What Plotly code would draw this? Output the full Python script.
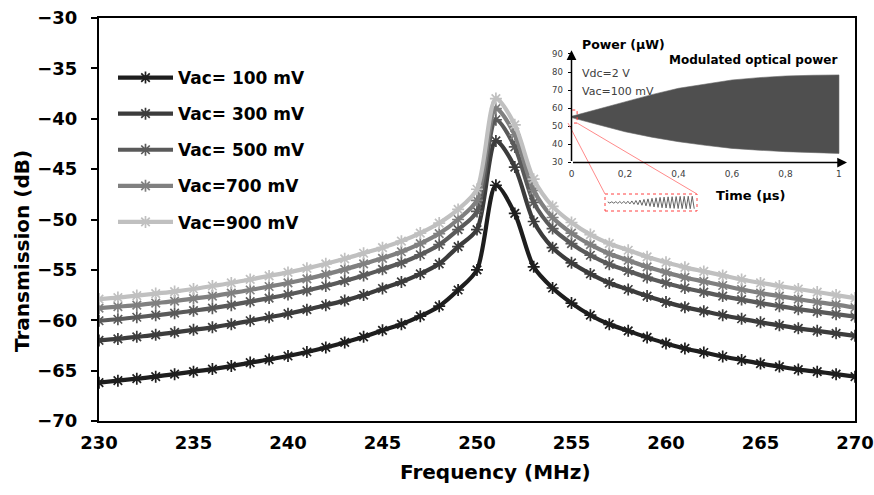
import numpy as np
import plotly.graph_objects as go

# ---- main data: transmission vs. frequency for several drive amplitudes ----
freq_mhz = list(range(230, 271))

vac_labels = ["Vac= 100 mV", "Vac= 300 mV", "Vac= 500 mV", "Vac=700 mV", "Vac=900 mV"]

trans_100mv = [-66.2, -66.0, -65.8, -65.6, -65.35, -65.1, -64.85, -64.55, -64.2, -63.9,
               -63.55, -63.15, -62.7, -62.2, -61.65, -61.0, -60.4, -59.6, -58.6, -57.0,
               -55.0, -46.6, -49.4, -54.7, -56.8, -58.3, -59.5, -60.4, -61.05, -61.7,
               -62.3, -62.8, -63.2, -63.6, -63.95, -64.3, -64.6, -64.9, -65.1, -65.35, -65.6]
trans_300mv = [-62.0, -61.85, -61.65, -61.45, -61.2, -60.95, -60.7, -60.4, -60.05, -59.7,
               -59.35, -58.95, -58.5, -58.05, -57.5, -56.85, -56.2, -55.4, -54.4, -52.7,
               -51.0, -42.2, -44.8, -50.2, -52.8, -54.3, -55.4, -56.3, -56.95, -57.6,
               -58.2, -58.7, -59.1, -59.5, -59.85, -60.2, -60.5, -60.8, -61.05, -61.3, -61.55]
trans_500mv = [-60.05, -59.9, -59.7, -59.5, -59.3, -59.05, -58.8, -58.5, -58.15, -57.8,
               -57.45, -57.05, -56.6, -56.1, -55.55, -54.95, -54.3, -53.5, -52.5, -51.0,
               -49.2, -40.1, -42.8, -48.3, -50.9, -52.4, -53.55, -54.45, -55.1, -55.75,
               -56.3, -56.8, -57.2, -57.6, -57.95, -58.3, -58.6, -58.9, -59.15, -59.4, -59.65]
trans_700mv = [-58.8, -58.65, -58.5, -58.3, -58.1, -57.85, -57.6, -57.3, -57.0, -56.65,
               -56.3, -55.9, -55.45, -54.95, -54.4, -53.85, -53.2, -52.4, -51.4, -50.0,
               -48.1, -39.0, -41.6, -47.1, -49.8, -51.35, -52.5, -53.4, -54.05, -54.7,
               -55.25, -55.75, -56.15, -56.55, -56.95, -57.3, -57.6, -57.9, -58.2, -58.45, -58.75]
trans_900mv = [-57.9, -57.75, -57.55, -57.35, -57.15, -56.9, -56.6, -56.3, -55.95, -55.6,
               -55.25, -54.85, -54.4, -53.9, -53.35, -52.8, -52.15, -51.35, -50.35, -49.0,
               -47.0, -38.0, -40.6, -46.0, -48.7, -50.3, -51.5, -52.4, -53.05, -53.7,
               -54.25, -54.75, -55.15, -55.55, -55.95, -56.3, -56.6, -56.9, -57.2, -57.5, -57.8]

series = [trans_100mv, trans_300mv, trans_500mv, trans_700mv, trans_900mv]
line_colors = ["#1e1e1e", "#3c3c3c", "#5a5a5a", "#808080", "#c0c0c0"]

y_ticks = [-70, -65, -60, -55, -50, -45, -40, -35, -30]
x_ticks = [230, 235, 240, 245, 250, 255, 260, 265, 270]

# ---- inset data: envelope of the modulated optical power ----
time_us = [0.0, 0.1, 0.2, 0.3, 0.4, 0.5, 0.6, 0.7, 0.8, 0.9, 1.0]
power_upper = [55.5, 59.6, 63.6, 67.5, 71.0, 73.5, 75.6, 76.9, 77.8, 78.2, 78.4]
power_lower = [54.8, 50.9, 47.0, 44.0, 41.5, 39.5, 37.8, 36.8, 36.0, 35.4, 35.0]
inset_y_ticks = [30, 40, 50, 60, 70, 80, 90]
inset_x_ticks = [0, 0.2, 0.4, 0.6, 0.8, 1.0]
inset_x_labels = ["0", "0,2", "0,4", "0,6", "0,8", "1"]

# close-up of the first oscillations (normalised swing, alternating half-cycles)
zoom_swing = [0.08, -0.08, 0.1, -0.1, 0.12, -0.12, 0.14, -0.14, 0.16, -0.17, 0.18, -0.2,
              0.22, -0.25, 0.28, -0.31, 0.35, -0.39, 0.43, -0.47, 0.51, -0.55, 0.59, -0.63,
              0.66, -0.69, 0.72, -0.74, 0.76, -0.78, 0.8, -0.81, 0.82, -0.83, 0.84, -0.85,
              0.86, -0.86, 0.87, -0.87, 0.88, -0.88, 0.88, -0.88]

# ---- page geometry (pixels) ----
W, H = 874, 495
ML, MR, MT, MB = 99, 19, 18, 74


def px_x(px):
    return (px - ML) / (W - ML - MR)


def px_y(py):
    return (H - MB - py) / (H - MT - MB)


FONT = "DejaVu Sans"
fig = go.Figure()

for vals, name, col in zip(series, vac_labels, line_colors):
    fig.add_trace(go.Scatter(
        x=freq_mhz, y=vals, name=name, legendgroup=name,
        mode="lines+markers",
        line=dict(color=col, width=4.2, shape="spline", smoothing=0.8),
        marker=dict(symbol="asterisk-open", size=10, line=dict(color=col, width=1.7)),
    ))

# inset axes
ix_range = [0, 1.03]
iy_range = [30, 92]
ix_dom = [px_x(571.5), px_x(847)]
iy_dom = [px_y(162.5), px_y(50.3)]

fig.add_trace(go.Scatter(
    x=time_us + time_us[::-1], y=power_upper + power_lower[::-1],
    fill="toself", fillcolor="#4f4f4f", mode="lines",
    line=dict(color="#6a6a6a", width=0.6),
    xaxis="x3", yaxis="y3", showlegend=False, hoverinfo="skip",
))

zx_dom = [px_x(605), px_x(697)]
zy_dom = [px_y(211), px_y(194)]
fig.add_trace(go.Scatter(
    x=np.linspace(0.03, 0.97, len(zoom_swing)), y=zoom_swing,
    mode="lines", line=dict(color="#666666", width=1),
    xaxis="x4", yaxis="y4", showlegend=False, hoverinfo="skip",
))


def label(text, px, py, size, color="black", xanchor="left", angle=0):
    return dict(text=text, x=px_x(px), y=px_y(py), xref="paper", yref="paper",
                xanchor=xanchor, yanchor="middle", showarrow=False, textangle=angle,
                font=dict(family=FONT, size=size, color=color))


annotations = [
    label("<b>Frequency (MHz)</b>", 495, 472, 20, xanchor="center"),
    label("<b>Transmission (dB)</b>", 22, 251, 20, xanchor="center", angle=-90),
    label("<b>Power (µW)</b>", 580, 44, 12.5),
    label("<b>Modulated optical power</b>", 667, 59.5, 12),
    label("Vdc=2 V", 580, 73.5, 11, color="#404040"),
    label("Vac=100 mV", 580, 91, 11, color="#404040"),
    label("<b>Time (µs)</b>", 714, 195, 13),
    # inset axis arrows
    dict(text="", x=0, y=iy_range[1], ax=0, ay=iy_range[0], xref="x3", yref="y3",
         axref="x3", ayref="y3", showarrow=True, arrowhead=2, arrowsize=1.3,
         arrowwidth=1.5, arrowcolor="black"),
    dict(text="", x=ix_range[1], y=iy_range[0], ax=0, ay=iy_range[0], xref="x3", yref="y3",
         axref="x3", ayref="y3", showarrow=True, arrowhead=2, arrowsize=1.3,
         arrowwidth=1.5, arrowcolor="black"),
]


def inset_to_paper(t, v):
    px = ix_dom[0] + (t - ix_range[0]) / (ix_range[1] - ix_range[0]) * (ix_dom[1] - ix_dom[0])
    py = iy_dom[0] + (v - iy_range[0]) / (iy_range[1] - iy_range[0]) * (iy_dom[1] - iy_dom[0])
    return px, py


box_t = [-0.013, 0.021]
box_v = [51.8, 59.0]
bl = inset_to_paper(box_t[0], box_v[0])
br = inset_to_paper(box_t[1], box_v[0])

red = "#ff4040"
shapes = [
    dict(type="rect", xref="x3", yref="y3", x0=box_t[0], x1=box_t[1], y0=box_v[0], y1=box_v[1],
         line=dict(color=red, width=1, dash="dot")),
    dict(type="rect", xref="paper", yref="paper", x0=zx_dom[0], x1=zx_dom[1],
         y0=zy_dom[0], y1=zy_dom[1], line=dict(color=red, width=1, dash="dot")),
    dict(type="line", xref="paper", yref="paper", x0=bl[0], y0=bl[1], x1=zx_dom[0], y1=zy_dom[1],
         line=dict(color="#ff8a8a", width=1)),
    dict(type="line", xref="paper", yref="paper", x0=br[0], y0=br[1], x1=zx_dom[1], y1=zy_dom[1],
         line=dict(color="#ff8a8a", width=1)),
]

fig.update_layout(
    width=W, height=H,
    margin=dict(l=ML, r=MR, t=MT, b=MB, autoexpand=False),
    paper_bgcolor="white", plot_bgcolor="white",
    font=dict(family=FONT, color="black"),
    showlegend=True,
    legend=dict(x=px_x(113), y=px_y(60), xanchor="left", yanchor="top",
                bgcolor="rgba(0,0,0,0)", itemwidth=55, tracegroupgap=11,
                font=dict(family=FONT, size=17, color="black", weight="bold")),
    xaxis=dict(range=[230, 270], tickvals=x_ticks, showgrid=False, zeroline=False,
               showline=True, linecolor="black", linewidth=2, mirror=True, ticks="",
               ticklabelstandoff=4, automargin=False,
               tickfont=dict(family=FONT, size=18, color="black", weight="bold")),
    xaxis2=dict(range=[230, 270], tickvals=x_ticks, overlaying="x", side="top", anchor="y",
                ticks="inside", ticklen=6, tickwidth=2, tickcolor="black", automargin=False,
                showticklabels=False, showgrid=False, zeroline=False, showline=False),
    yaxis=dict(range=[-70, -30], tickvals=y_ticks, showgrid=False, zeroline=False,
               showline=True, linecolor="black", linewidth=2, mirror=True,
               ticks="outside", ticklen=6, tickwidth=2, tickcolor="black",
               ticklabelstandoff=10, automargin=False,
               tickfont=dict(family=FONT, size=18, color="black", weight="bold")),
    xaxis3=dict(domain=ix_dom, range=ix_range, anchor="y3", tickvals=inset_x_ticks,
                ticktext=inset_x_labels, showgrid=False, zeroline=False, showline=False,
                ticks="", ticklabelstandoff=4, automargin=False,
                tickfont=dict(family=FONT, size=9, color="#404040")),
    yaxis3=dict(domain=iy_dom, range=iy_range, anchor="x3", tickvals=inset_y_ticks,
                showgrid=False, zeroline=False, showline=False, ticks="outside",
                ticklen=3, tickwidth=1, tickcolor="black", ticklabelstandoff=3,
                automargin=False,
                tickfont=dict(family=FONT, size=8.5, color="#404040")),
    xaxis4=dict(domain=zx_dom, range=[0, 1], anchor="y4", visible=False),
    yaxis4=dict(domain=zy_dom, range=[-1.2, 1.2], anchor="x4", visible=False),
    annotations=annotations,
    shapes=shapes,
)

fig.write_html("out.html")
